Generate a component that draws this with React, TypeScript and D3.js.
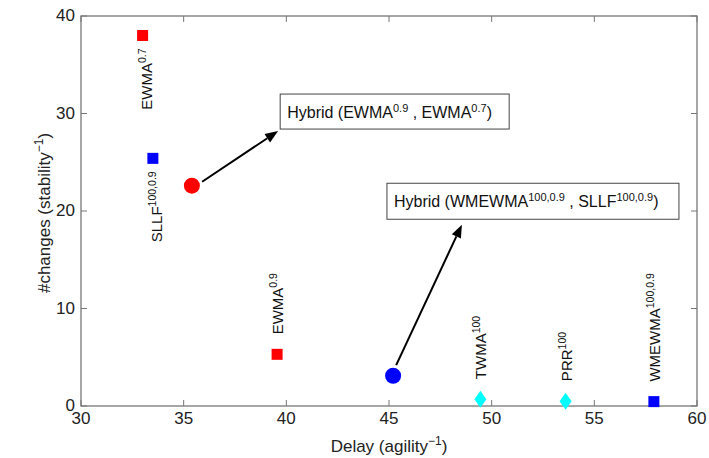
import React from "react";
import * as d3 from "d3";

// x ticks / y ticks
const xTicks = [30, 35, 40, 45, 50, 55, 60];
const yTicks = [0, 10, 20, 30, 40];

// single metrics (squares / diamonds)
const methodNames = ["EWMA", "SLLF", "EWMA", "TWMA", "PRR", "WMEWMA"];
const methodSup = ["0.7", "100,0.9", "0.9", "100", "100", "100,0.9"];
const methodDelay = [33.0, 33.5, 39.55, 49.45, 53.6, 57.9];
const methodChanges = [38.0, 25.4, 5.3, 0.7, 0.5, 0.45];
const methodFamily = ["ewma", "sllf", "ewma", "twma", "prr", "wmewma"];
const methodLabelSide = ["below", "below", "above", "above", "above", "above"];

// hybrid metrics (circles)
const hybridFamily = ["ewma", "wmewma"];
const hybridDelay = [35.4, 45.2];
const hybridChanges = [22.6, 3.1];
const hybridLabels = [
  [["Hybrid (EWMA", "0.9"], [" , EWMA", "0.7"], [")", ""]],
  [["Hybrid (WMEWMA", "100,0.9"], [" , SLLF", "100,0.9"], [")", ""]],
];
// annotation anchors in data units: box left, box centre, arrow start -> tip
const boxX = [39.7, 44.9];
const boxY = [30.2, 21.0];
const arrowFrom = [[35.9, 23.0], [45.35, 4.2]];
const arrowTo = [[39.6, 28.2], [48.55, 18.6]];

const W = 709;
const H = 458;
const margin = { top: 16, right: 12, bottom: 52, left: 81 };
const font = "'Liberation Sans', Arial, Helvetica, sans-serif";

const markerColor: Record<string, string> = {
  ewma: "#ff0000",
  sllf: "#0000ff",
  wmewma: "#0000ff",
  twma: "#00ffff",
  prr: "#00ffff",
};
const markerShape: Record<string, string> = {
  ewma: "square",
  sllf: "square",
  wmewma: "square",
  twma: "diamond",
  prr: "diamond",
};

export default function App() {
  const x = d3.scaleLinear().domain([30, 60]).range([margin.left, W - margin.right]);
  const y = d3.scaleLinear().domain([0, 40]).range([H - margin.bottom, margin.top]);
  const x0 = x.range()[0];
  const x1 = x.range()[1];
  const y0 = y.range()[0];
  const y1 = y.range()[1];
  const axisColor = "#777";
  const boxW = [229, 292];
  const boxH = [35, 36];

  const arrowHead = (fx: number, fy: number, tx: number, ty: number) => {
    const a = Math.atan2(ty - fy, tx - fx);
    const len = 13;
    const half = 5;
    const bx = tx - len * Math.cos(a);
    const by = ty - len * Math.sin(a);
    const path = d3.path();
    path.moveTo(tx, ty);
    path.lineTo(bx + half * Math.sin(a), by - half * Math.cos(a));
    path.lineTo(bx - half * Math.sin(a), by + half * Math.cos(a));
    path.closePath();
    return { d: path.toString(), bx, by };
  };

  return (
    <svg width={W} height={H} style={{ position: "absolute", left: 0, top: 0, background: "#fff" }} fontFamily={font}>
      <rect width={W} height={H} fill="#fff" />
      {/* frame */}
      <rect x={x0} y={y1} width={x1 - x0} height={y0 - y1} fill="none" stroke={axisColor} strokeWidth={1.3} />
      {xTicks.map((t) => (
        <g key={"x" + t}>
          <line x1={x(t)} x2={x(t)} y1={y0} y2={y0 - 6} stroke={axisColor} />
          <line x1={x(t)} x2={x(t)} y1={y1} y2={y1 + 6} stroke={axisColor} />
          <text x={x(t)} y={y0 + 18} textAnchor="middle" fontSize={17} fill="#222">{t}</text>
        </g>
      ))}
      {yTicks.map((t) => (
        <g key={"y" + t}>
          <line x1={x0} x2={x0 + 6} y1={y(t)} y2={y(t)} stroke={axisColor} />
          <line x1={x1} x2={x1 - 6} y1={y(t)} y2={y(t)} stroke={axisColor} />
          <text x={x0 - 6} y={y(t) + 5} textAnchor="end" fontSize={17} fill="#222">{t}</text>
        </g>
      ))}
      {/* axis labels */}
      <text x={(x0 + x1) / 2} y={452} textAnchor="middle" fontSize={17} fill="#222">
        Delay (agility<tspan dy={-7} fontSize={12}>−1</tspan><tspan dy={7}>)</tspan>
      </text>
      <text transform={`translate(50,${(y0 + y1) / 2 + 2}) rotate(-90)`} textAnchor="middle" fontSize={17} fill="#222">
        #changes (stability<tspan dy={-7} fontSize={12}>−1</tspan><tspan dy={7}>)</tspan>
      </text>

      {/* single metrics */}
      {methodNames.map((name, i) => {
        const cx = x(methodDelay[i]);
        const cy = y(methodChanges[i]);
        const fam = methodFamily[i];
        const color = markerColor[fam];
        const mark =
          markerShape[fam] === "square" ? (
            <rect x={cx - 5.5} y={cy - 5.5} width={11} height={11} fill={color} />
          ) : (
            <path d={`M${cx},${cy - 8.5}L${cx + 6},${cy}L${cx},${cy + 8.5}L${cx - 6},${cy}Z`} fill={color} />
          );
        const below = methodLabelSide[i] === "below";
        const lx = cx + (below ? 9.5 : 6);
        const ly = below ? cy + 13 : cy - 20;
        return (
          <g key={"m" + i}>
            {mark}
            <text
              transform={`translate(${lx},${ly}) rotate(-90)`}
              textAnchor={below ? "end" : "start"}
              fontSize={15}
              fill="#111"
            >
              {name}
              <tspan dy={-6} fontSize={10.5}>{methodSup[i]}</tspan>
            </text>
          </g>
        );
      })}

      {/* hybrid circles */}
      {hybridFamily.map((fam, i) => (
        <circle key={"h" + i} cx={x(hybridDelay[i])} cy={y(hybridChanges[i])} r={8} fill={markerColor[fam]} />
      ))}

      {/* annotations */}
      {hybridLabels.map((parts, i) => {
        const fx = x(arrowFrom[i][0]);
        const fy = y(arrowFrom[i][1]);
        const tx = x(arrowTo[i][0]);
        const ty = y(arrowTo[i][1]);
        const head = arrowHead(fx, fy, tx, ty);
        const bx = x(boxX[i]);
        const by = y(boxY[i]);
        return (
          <g key={"a" + i}>
            <line x1={fx} y1={fy} x2={head.bx} y2={head.by} stroke="#000" strokeWidth={2} />
            <path d={head.d} fill="#000" />
            <rect x={bx} y={by - boxH[i] / 2} width={boxW[i]} height={boxH[i]} fill="#fff" stroke="#444" strokeWidth={1} />
            <text x={bx + 7} y={by + 6} fontSize={16} fill="#111">
              {parts.map((p, j) => (
                <React.Fragment key={j}>
                  <tspan dy={j === 0 ? 0 : 6}>{p[0]}</tspan>
                  {p[1] && <tspan dy={-6} fontSize={11}>{p[1]}</tspan>}
                </React.Fragment>
              ))}
            </text>
          </g>
        );
      })}
    </svg>
  );
}
